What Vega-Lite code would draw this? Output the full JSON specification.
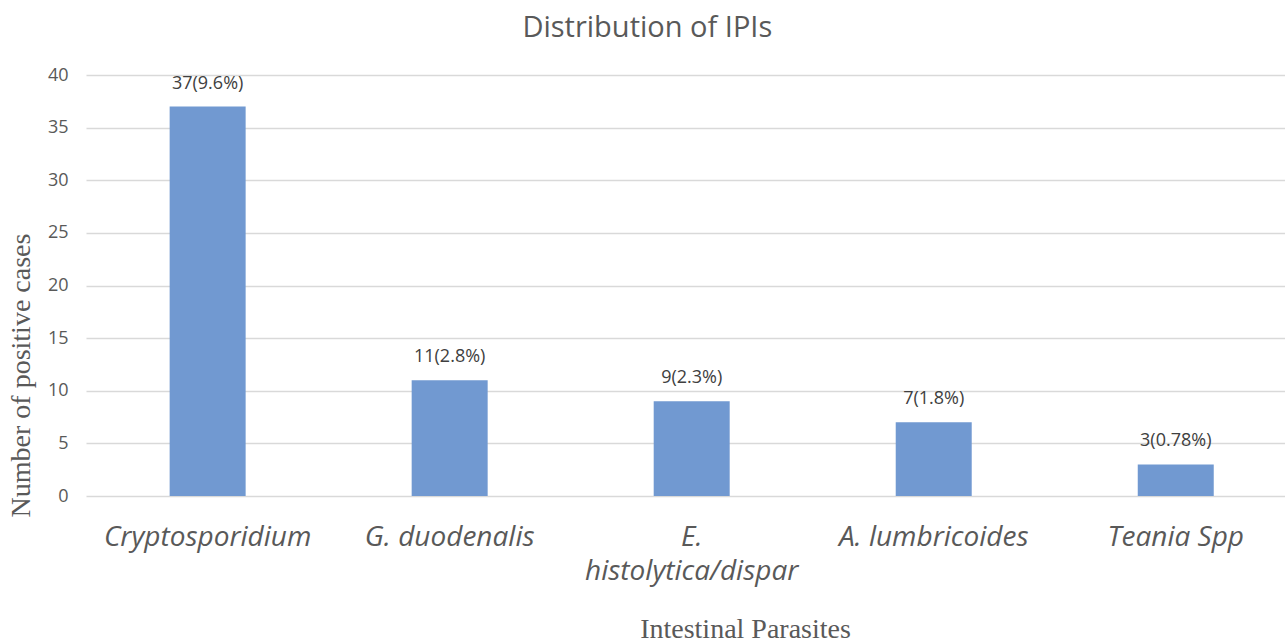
{
  "$schema": "https://vega.github.io/schema/vega-lite/v6.json",
  "autosize": {"type": "none"},
  "width": 1199,
  "height": 421,
  "padding": {"left": 86, "top": 75, "right": 0, "bottom": 143},
  "background": "white",
  "title": {
    "text": "Distribution of IPIs",
    "font": "Open Sans",
    "fontSize": 29,
    "fontWeight": "normal",
    "color": "#595959",
    "anchor": "start",
    "dx": 515,
    "offset": 23
  },
  "data": {
    "values": [
      {"parasite": "Cryptosporidium", "count": 37, "label": "37(9.6%)"},
      {"parasite": "G. duodenalis", "count": 11, "label": "11(2.8%)"},
      {"parasite": "E. histolytica/dispar", "count": 9, "label": "9(2.3%)"},
      {"parasite": "A. lumbricoides", "count": 7, "label": "7(1.8%)"},
      {"parasite": "Teania Spp", "count": 3, "label": "3(0.78%)"}
    ]
  },
  "config": {"view": {"stroke": null}},
  "encoding": {
    "x": {
      "field": "parasite",
      "type": "nominal",
      "sort": null,
      "scale": {"paddingInner": 0.686, "paddingOuter": 0.32, "align": 0.54},
      "axis": {
        "title": "Intestinal Parasites",
        "titleFont": "Liberation Serif",
        "titleFontSize": 28,
        "titleFontWeight": "normal",
        "titleColor": "#595959",
        "titleX": 659,
        "titlePadding": 30,
        "labelFont": "Open Sans",
        "labelFontSize": 28,
        "labelFontStyle": "italic",
        "labelColor": "#595959",
        "labelAngle": 0,
        "labelPadding": 27,
        "labelLimit": 0,
        "labelLineHeight": 34,
        "labelExpr": "datum.label == 'E. histolytica/dispar' ? ['E.', 'histolytica/dispar'] : datum.label",
        "domain": false,
        "ticks": false
      }
    }
  },
  "layer": [
    {
      "mark": {"type": "bar", "color": "#7199d1"},
      "encoding": {
        "y": {
          "field": "count",
          "type": "quantitative",
          "scale": {"domain": [0, 40]},
          "axis": {
            "title": "Number of positive cases",
            "titleFont": "Liberation Serif",
            "titleFontSize": 28,
            "titleFontWeight": "normal",
            "titleColor": "#595959",
            "titlePadding": 12,
            "titleY": 300,
            "values": [0, 5, 10, 15, 20, 25, 30, 35, 40],
            "labelFont": "Open Sans",
            "labelFontSize": 18,
            "labelColor": "#595959",
            "labelPadding": 18,
            "domain": false,
            "ticks": false,
            "grid": true,
            "gridColor": "#d9d9d9",
            "gridWidth": 1.5
          }
        }
      }
    },
    {
      "mark": {"type": "text", "font": "Open Sans", "fontSize": 18, "color": "#404040", "dy": -23},
      "encoding": {
        "y": {"field": "count", "type": "quantitative"},
        "text": {"field": "label"}
      }
    }
  ]
}
